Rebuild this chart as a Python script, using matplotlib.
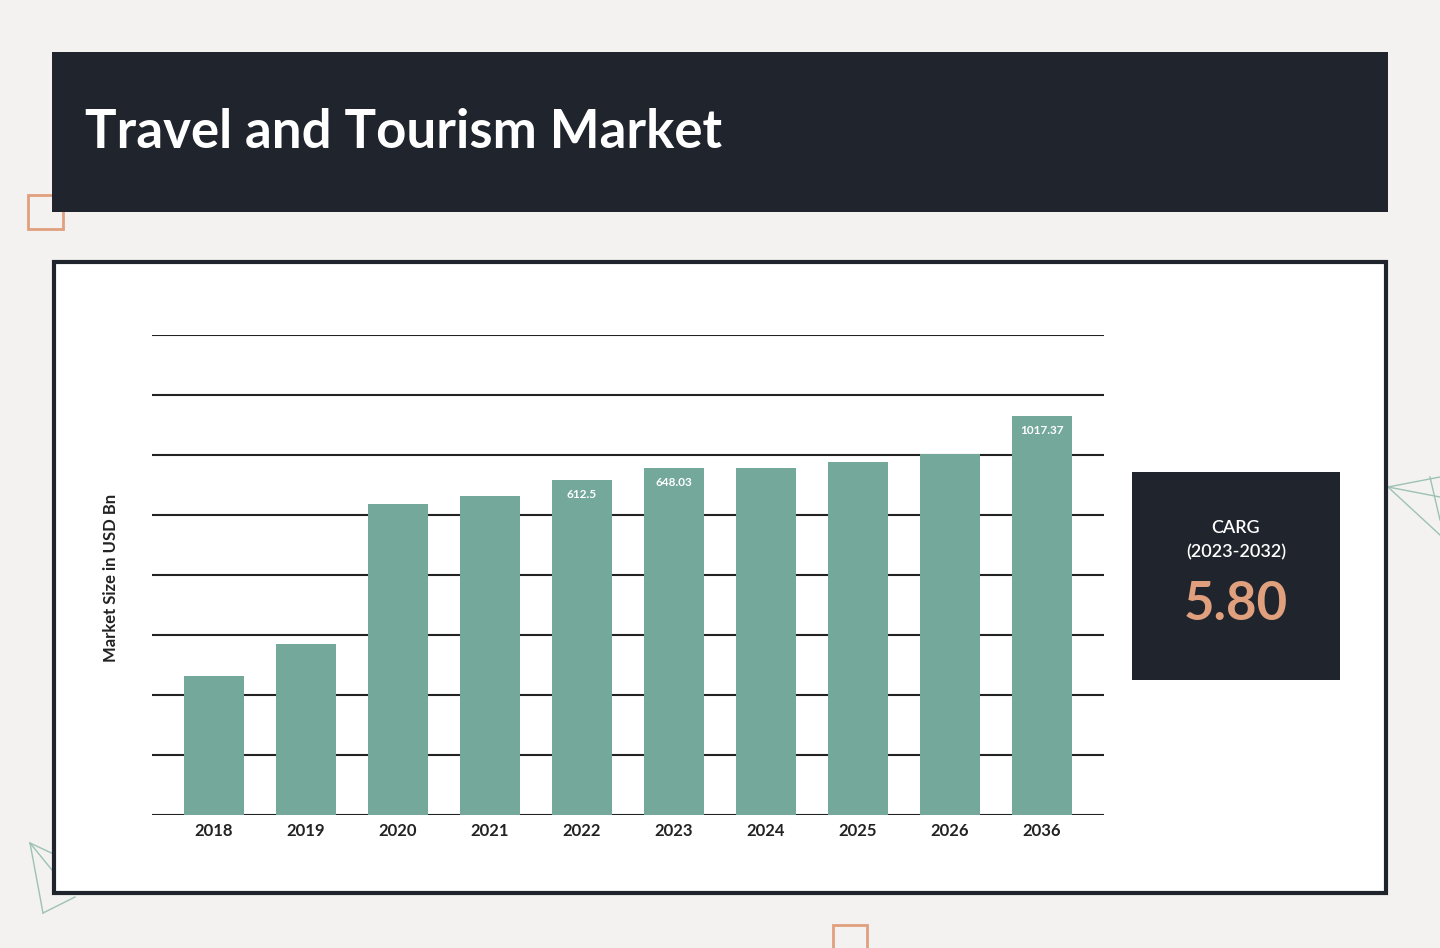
import matplotlib
matplotlib.use("Agg")
import matplotlib.pyplot as plt
from matplotlib.patches import Rectangle
from matplotlib.lines import Line2D

years = ["2018", "2019", "2020", "2021", "2022", "2023", "2024", "2025", "2026", "2036"]
heights = [139, 171, 311, 319, 335, 347, 347, 353, 361, 399]
bar_labels = ["", "", "", "", "612.5", "648.03", "", "", "", "1017.37"]
grid_step = 60
grid_count = 8

W, H = 1440, 948
fig = plt.figure(figsize=(W/100, H/100), dpi=100)
fig.patch.set_facecolor("#f3f2f0")
FONT = "Lato"

def fx(x): return x / W
def fy(y): return 1 - y / H

def rect(x0, y0, x1, y1, **kw):
    fig.patches.append(Rectangle((fx(x0), fy(y1)), fx(x1) - fx(x0), fy(y0) - fy(y1),
                                 transform=fig.transFigure, zorder=0.5, **kw))

dark = "#20252d"
orange = "#e0a07d"
teal = "#74a89b"

# decorations
rect(28, 195, 63, 229, fill=False, edgecolor=orange, lw=2)
rect(833, 925, 867, 960, fill=False, edgecolor=orange, lw=2)
for seg in [((1388, 487), (1440, 477)), ((1388, 487), (1440, 535)), ((1388, 487), (1440, 497)), ((1430, 477), (1440, 520))]:
    fig.lines.append(Line2D([fx(seg[0][0]), fx(seg[1][0])], [fy(seg[0][1]), fy(seg[1][1])],
                            transform=fig.transFigure, color="#9cc2b5", lw=1, zorder=0.3))
for seg in [((30, 843), (43, 913)), ((30, 843), (60, 857)), ((43, 913), (75, 897)), ((30, 843), (52, 870))]:
    fig.lines.append(Line2D([fx(seg[0][0]), fx(seg[1][0])], [fy(seg[0][1]), fy(seg[1][1])],
                            transform=fig.transFigure, color="#9cc2b5", lw=1, zorder=0.3))

# header
rect(52, 52, 1388, 212, facecolor=dark, edgecolor="none")
fig.text(fx(85), fy(133), "Travel and Tourism Market", color="white", fontsize=38,
         fontweight="bold", family=FONT, va="center", ha="left")

# panel
rect(54, 262, 1386, 893, facecolor="white", edgecolor=dark, lw=3)

# axes
ax = fig.add_axes([fx(152), fy(815), fx(1104) - fx(152), fy(335) - fy(815)])
ax.set_zorder(3)
ax.set_facecolor("none")
x = list(range(len(years)))
ax.set_ylim(0, grid_step * grid_count)
ax.set_xlim(-0.674, 9.674)
for i in range(grid_count + 1):
    ax.axhline(i * grid_step, color="#222222", lw=1.5, zorder=1)
bars = ax.bar(x, heights, width=0.652, color=teal, zorder=2)
for xi, h, lab in zip(x, heights, bar_labels):
    if lab:
        ax.text(xi, h - 9, lab, ha="center", va="top", color="white", fontsize=8.5,
                fontweight="bold", family=FONT, zorder=3)
ax.set_xticks(x)
ax.set_xticklabels(years, fontsize=12, fontweight="bold", family=FONT, color="#222222")
ax.tick_params(axis="x", length=0, pad=6)
ax.set_yticks([])
for s in ax.spines.values():
    s.set_visible(False)
fig.text(fx(111), fy(578), "Market Size in USD Bn", rotation=90, ha="center", va="center",
         fontsize=12, fontweight="bold", family=FONT, color="#222222")

# CAGR box
rect(1132, 472, 1340, 680, facecolor=dark, edgecolor="none")
fig.text(fx(1236), fy(528), "CARG", color="white", fontsize=13, ha="center", va="center",
         family=FONT, fontweight="semibold")
fig.text(fx(1236), fy(552), "(2023-2032)", color="white", fontsize=13, ha="center", va="center",
         family=FONT, fontweight="semibold")
fig.text(fx(1236), fy(604), "5.80", color=orange, fontsize=38, fontweight="bold", ha="center", va="center", family=FONT)

fig.savefig("out.png", dpi=100, facecolor=fig.get_facecolor())
